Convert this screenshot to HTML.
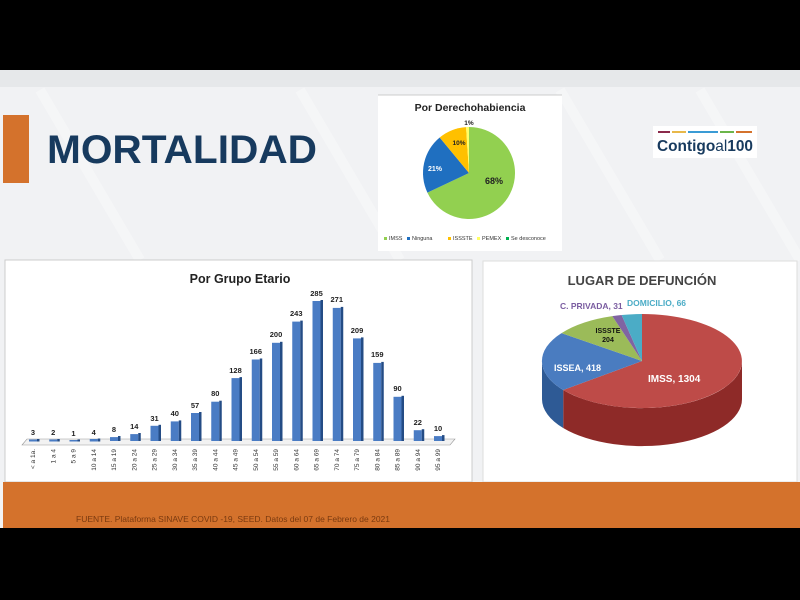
<!DOCTYPE html>
<html><head><meta charset="utf-8"><style>
html,body{margin:0;padding:0;background:#000;}
svg{display:block;font-family:"Liberation Sans",sans-serif;}
</style></head><body>
<svg width="800" height="600" viewBox="0 0 800 600" xmlns="http://www.w3.org/2000/svg">
<rect x="0" y="0" width="800" height="600" fill="#000"/>
<rect x="0" y="70" width="800" height="414" fill="#f1f2f4"/>
<rect x="0" y="70" width="800" height="17" fill="#e6e8ea"/>
<g stroke="#ffffff" stroke-width="10" opacity="0.35">
<line x1="40" y1="90" x2="140" y2="260"/><line x1="300" y1="90" x2="400" y2="260"/>
<line x1="560" y1="90" x2="660" y2="260"/><line x1="700" y1="90" x2="800" y2="260"/>
</g>
<rect x="3" y="115" width="26" height="68" fill="#d4722c"/>
<text x="47" y="163" font-size="40" font-weight="bold" fill="#173a5e" textLength="270" lengthAdjust="spacingAndGlyphs">MORTALIDAD</text>
<!-- logo -->
<rect x="653" y="126" width="104" height="32" fill="#fff"/>
<rect x="658" y="131" width="12" height="2" fill="#8b2a4b"/><rect x="672" y="131" width="14" height="2" fill="#e8b84a"/><rect x="688" y="131" width="30" height="2" fill="#3a9bd5"/><rect x="720" y="131" width="14" height="2" fill="#6bb54a"/><rect x="736" y="131" width="16" height="2" fill="#d4722c"/>
<text x="657" y="151" font-size="16" font-weight="bold" fill="#173a5e" textLength="96" lengthAdjust="spacingAndGlyphs">Contigo<tspan font-weight="normal">al</tspan>100</text>
<!-- top pie panel -->
<rect x="378" y="95" width="184" height="156" fill="#fff"/>
<line x1="378" y1="95" x2="562" y2="95" stroke="#ccc"/>
<text x="470" y="111" font-size="10.5" font-weight="bold" fill="#222" text-anchor="middle">Por Derechohabiencia</text>
<path d="M469,173 L469,127 A46,46 0 1 1 427.4,192.6 Z" fill="#92d050"/>
<path d="M469,173 L427.4,192.6 A46,46 0 0 1 439.7,137.5 Z" fill="#1f6fc0"/>
<path d="M469,173 L439.7,137.5 A46,46 0 0 1 466.1,127.1 Z" fill="#ffc000"/>
<path d="M469,173 L466.1,127.1 A46,46 0 0 1 469,127 Z" fill="#ffff66"/>
<text x="494" y="184" font-size="9" font-weight="bold" fill="#222" text-anchor="middle">68%</text>
<text x="435" y="171" font-size="7" font-weight="bold" fill="#fff" text-anchor="middle">21%</text>
<text x="459" y="145" font-size="6.5" font-weight="bold" fill="#222" text-anchor="middle">10%</text>
<text x="469" y="125" font-size="6.5" font-weight="bold" fill="#222" text-anchor="middle">1%</text>
<g font-size="5.5" fill="#333">
<rect x="384" y="237" width="3" height="3" fill="#92d050"/><text x="389" y="240">IMSS</text>
<rect x="407" y="237" width="3" height="3" fill="#1f6fc0"/><text x="412" y="240">Ninguna</text>
<rect x="448" y="237" width="3" height="3" fill="#ffc000"/><text x="453" y="240">ISSSTE</text>
<rect x="477" y="237" width="3" height="3" fill="#ffff66"/><text x="482" y="240">PEMEX</text>
<rect x="506" y="237" width="3" height="3" fill="#00b050"/><text x="511" y="240">Se desconoce</text>
</g>
<!-- bar chart panel -->
<rect x="5" y="260" width="467" height="222" fill="#fff" stroke="#ccc" stroke-width="1"/>
<text x="240" y="283" font-size="12.5" font-weight="bold" fill="#222" text-anchor="middle">Por Grupo Etario</text>
<path d="M22,445 L450,445 L455,439 L27,439 Z" fill="#f2f2f2" stroke="#999" stroke-width="0.6"/>
<g fill="#4a7cc4">
<rect x="29" y="439.5" width="8" height="2"/><rect x="49.25" y="439.5" width="8" height="2"/><rect x="69.5" y="440" width="8" height="1.5"/><rect x="89.75" y="439" width="8" height="2.5"/>
<rect x="110" y="437.1" width="8" height="3.9"/><rect x="130.25" y="434.1" width="8" height="6.9"/><rect x="150.5" y="425.8" width="8" height="15.2"/><rect x="170.75" y="421.4" width="8" height="19.6"/>
<rect x="191" y="413" width="8" height="28"/><rect x="211.25" y="401.7" width="8" height="39.3"/><rect x="231.5" y="378.1" width="8" height="62.9"/><rect x="251.75" y="359.5" width="8" height="81.5"/>
<rect x="272" y="342.8" width="8" height="98.2"/><rect x="292.25" y="321.6" width="8" height="119.4"/><rect x="312.5" y="301" width="8" height="140"/><rect x="332.75" y="307.9" width="8" height="133.1"/>
<rect x="353" y="338.4" width="8" height="102.6"/><rect x="373.25" y="362.9" width="8" height="78.1"/><rect x="393.5" y="396.8" width="8" height="44.2"/><rect x="413.75" y="430.2" width="8" height="10.8"/><rect x="434" y="436.1" width="8" height="4.9"/>
</g>
<g fill="#244c85">
<rect x="37" y="439" width="2.5" height="2.5"/><rect x="57.25" y="439" width="2.5" height="2.5"/><rect x="77.5" y="439.5" width="2.5" height="2"/><rect x="97.75" y="438.5" width="2.5" height="3"/>
<rect x="118" y="436" width="2.5" height="5"/><rect x="138.25" y="433" width="2.5" height="8"/><rect x="158.5" y="424.8" width="2.5" height="16.2"/><rect x="178.75" y="420.4" width="2.5" height="20.6"/>
<rect x="199" y="412" width="2.5" height="29"/><rect x="219.25" y="400.7" width="2.5" height="40.3"/><rect x="239.5" y="377.1" width="2.5" height="63.9"/><rect x="259.75" y="358.5" width="2.5" height="82.5"/>
<rect x="280" y="341.8" width="2.5" height="99.2"/><rect x="300.25" y="320.6" width="2.5" height="120.4"/><rect x="320.5" y="300" width="2.5" height="141"/><rect x="340.75" y="306.9" width="2.5" height="134.1"/>
<rect x="361" y="337.4" width="2.5" height="103.6"/><rect x="381.25" y="361.9" width="2.5" height="79.1"/><rect x="401.5" y="395.8" width="2.5" height="45.2"/><rect x="421.75" y="429.2" width="2.5" height="11.8"/><rect x="442" y="435.1" width="2.5" height="5.9"/>
</g>
<g font-size="7.5" font-weight="bold" fill="#222" text-anchor="middle">
<text x="33" y="435">3</text><text x="53.25" y="435">2</text><text x="73.5" y="436">1</text><text x="93.75" y="435">4</text>
<text x="114" y="432">8</text><text x="134.25" y="429">14</text><text x="154.5" y="421">31</text><text x="174.75" y="416">40</text>
<text x="195" y="408">57</text><text x="215.25" y="396">80</text><text x="235.5" y="373">128</text><text x="255.75" y="354">166</text>
<text x="276" y="337">200</text><text x="296.25" y="316">243</text><text x="316.5" y="296">285</text><text x="336.75" y="302">271</text>
<text x="357" y="333">209</text><text x="377.25" y="357">159</text><text x="397.5" y="391">90</text><text x="417.75" y="425">22</text><text x="438" y="431">10</text>
</g>
<g font-size="6.5" fill="#333" text-anchor="end">
<text transform="translate(35,449) rotate(-90)">&lt; a 1a.</text><text transform="translate(55.25,449) rotate(-90)">1 a 4</text><text transform="translate(75.5,449) rotate(-90)">5 a 9</text><text transform="translate(95.75,449) rotate(-90)">10 a 14</text>
<text transform="translate(116,449) rotate(-90)">15 a 19</text><text transform="translate(136.25,449) rotate(-90)">20 a 24</text><text transform="translate(156.5,449) rotate(-90)">25 a 29</text><text transform="translate(176.75,449) rotate(-90)">30 a 34</text>
<text transform="translate(197,449) rotate(-90)">35 a 39</text><text transform="translate(217.25,449) rotate(-90)">40 a 44</text><text transform="translate(237.5,449) rotate(-90)">45 a 49</text><text transform="translate(257.75,449) rotate(-90)">50 a 54</text>
<text transform="translate(278,449) rotate(-90)">55 a 59</text><text transform="translate(298.25,449) rotate(-90)">60 a 64</text><text transform="translate(318.5,449) rotate(-90)">65 a 69</text><text transform="translate(338.75,449) rotate(-90)">70 a 74</text>
<text transform="translate(359,449) rotate(-90)">75 a 79</text><text transform="translate(379.25,449) rotate(-90)">80 a 84</text><text transform="translate(399.5,449) rotate(-90)">85 a 89</text><text transform="translate(419.75,449) rotate(-90)">90 a 94</text><text transform="translate(440,449) rotate(-90)">95 a 99</text>
</g>
<!-- 3D pie panel -->
<rect x="483" y="261" width="314" height="221" fill="#fff" stroke="#ddd"/>
<text x="642" y="285" font-size="13" font-weight="bold" fill="#444" text-anchor="middle">LUGAR DE DEFUNCIÓN</text>
<path d="M742,361 L742,399 A100,47 0 0 1 563.2,428 L563.2,390 A100,47 0 0 0 742,361 Z" fill="#8e2a28"/>
<path d="M563.2,390 L563.2,428 A100,47 0 0 1 542,399 L542,361 A100,47 0 0 0 563.2,390 Z" fill="#2e5a95"/>
<path d="M642,361 L642,314 A100,47 0 1 1 563.2,390 Z" fill="#be4b48"/>
<path d="M642,361 L563.2,390 A100,47 0 0 1 561.5,333.1 Z" fill="#4a7cc0"/>
<path d="M642,361 L561.5,333.1 A100,47 0 0 1 612.3,316.1 Z" fill="#9bbb59"/>
<path d="M642,361 L612.3,316.1 A100,47 0 0 1 621.6,315 Z" fill="#8064a2"/>
<path d="M642,361 L621.6,315 A100,47 0 0 1 642,314 Z" fill="#4bacc6"/>
<text x="648" y="382" font-size="10" font-weight="bold" fill="#fff">IMSS, 1304</text>
<text x="554" y="371" font-size="9" font-weight="bold" fill="#fff">ISSEA, 418</text>
<text x="608" y="333" font-size="7" font-weight="bold" fill="#111" text-anchor="middle">ISSSTE</text>
<text x="608" y="342" font-size="7" font-weight="bold" fill="#111" text-anchor="middle">204</text>
<text x="560" y="309" font-size="8.5" font-weight="bold" fill="#7a5ca0">C. PRIVADA, 31</text>
<text x="627" y="306" font-size="8.5" font-weight="bold" fill="#4bacc6">DOMICILIO, 66</text>
<!-- footer -->
<rect x="0" y="482" width="800" height="46" fill="#d4722c"/>
<rect x="0" y="482" width="3" height="46" fill="#f4f4f4"/>
<text x="76" y="522" font-size="8.5" fill="#7a3a10">FUENTE. Plataforma SINAVE COVID -19, SEED. Datos del 07 de Febrero de 2021</text>
</svg>
</body></html>
